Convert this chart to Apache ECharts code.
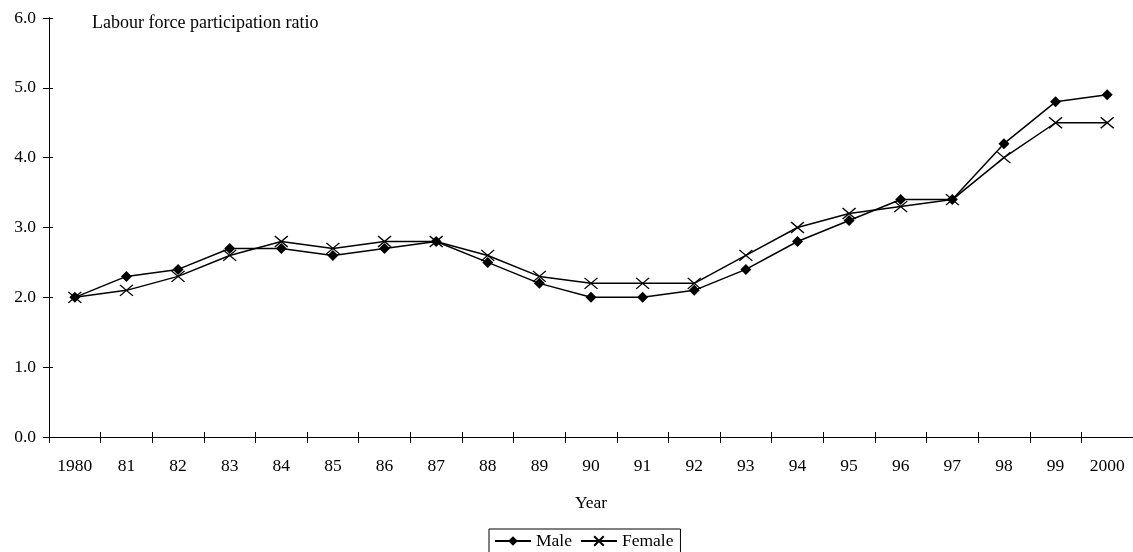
<!DOCTYPE html>
<html><head><meta charset="utf-8">
<script src="https://cdn.jsdelivr.net/npm/echarts@6/dist/echarts.min.js"></script>
<style>html,body{margin:0;padding:0;background:#fff}#c{width:1133px;height:552px}</style>
</head><body><div id="c"></div>
<script>
var years = ['1980','81','82','83','84','85','86','87','88','89','90','91','92','93','94','95','96','97','98','99','2000'];
var male = [2.0,2.3,2.4,2.7,2.7,2.6,2.7,2.8,2.5,2.2,2.0,2.0,2.1,2.4,2.8,3.1,3.4,3.4,4.2,4.8,4.9];
var female = [2.0,2.1,2.3,2.6,2.8,2.7,2.8,2.8,2.6,2.3,2.2,2.2,2.2,2.6,3.0,3.2,3.3,3.4,4.0,4.5,4.5];
var font = '"Liberation Serif","Times New Roman",serif';
var chart = echarts.init(document.getElementById('c'));
var axLine = {lineStyle:{color:'#000',width:1}};
chart.setOption({
  animation:false,
  textStyle:{fontFamily:font,color:'#000'},
  grid:{left:49,top:18,width:1086,height:419,containLabel:false},
  graphic:[
    {type:'text',left:92,top:14,style:{text:'Labour force participation ratio',font:'18px '+font,fill:'#000'}}
  ],
  legend:{
    top:529,left:489,itemGap:8,padding:[3,7,6,5],
    borderColor:'#000',borderWidth:1,itemWidth:36,itemHeight:12,
    textStyle:{fontFamily:font,fontSize:17.5,color:'#000'},
    data:['Male','Female']
  },
  xAxis:[{
    type:'category',data:years,boundaryGap:true,
    name:'Year',nameLocation:'middle',nameGap:57,
    nameTextStyle:{fontFamily:font,fontSize:17.5,color:'#000'},
    axisLine:axLine,
    axisTick:{show:true,length:6,lineStyle:{color:'#000'}},
    axisLabel:{fontFamily:font,fontSize:17.5,color:'#000',margin:20,interval:0}
  },{
    type:'category',data:years,position:'bottom',offset:0,
    axisLine:axLine,
    axisTick:{show:true,inside:true,length:5,lineStyle:{color:'#000'}},
    axisLabel:{show:false}
  }],
  yAxis:[{
    type:'value',min:0,max:6,interval:1,
    axisLine:{show:true,lineStyle:{color:'#000'}},
    axisTick:{show:true,length:6,lineStyle:{color:'#000'}},
    splitLine:{show:false},
    axisLabel:{fontFamily:font,fontSize:17.5,color:'#000',margin:13,formatter:function(v){return v.toFixed(1);}}
  },{
    type:'value',min:0,max:6,interval:1,position:'left',offset:0,
    axisLine:{show:true,lineStyle:{color:'#000'}},
    axisTick:{show:true,inside:true,length:4,lineStyle:{color:'#000'}},
    splitLine:{show:false},axisLabel:{show:false}
  }],
  series:[{
    name:'Male',type:'line',data:male,
    symbol:'diamond',symbolSize:11,
    lineStyle:{color:'#000',width:1.5},
    itemStyle:{color:'#000'}
  },{
    name:'Female',type:'line',data:female,
    symbol:'path://M0,0L10,10M10,0L0,10',symbolSize:[13,11],
    lineStyle:{color:'#000',width:1.5},
    itemStyle:{color:'#000',borderColor:'#000',borderWidth:1.3}
  }]
});
</script></body></html>
